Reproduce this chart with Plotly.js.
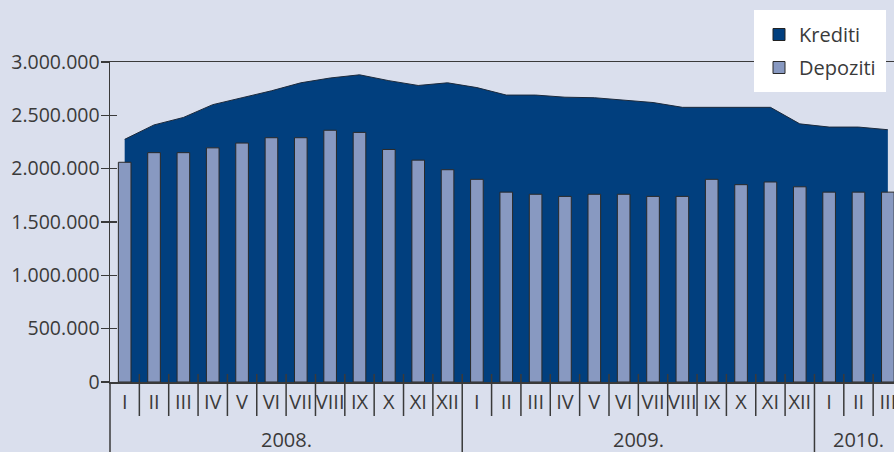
<!DOCTYPE html>
<html>
<head>
<meta charset="utf-8">
<script src="https://cdn.plot.ly/plotly-3.0.1.min.js"></script>
<style>
  html, body { margin: 0; padding: 0; background: #dadfed; }
  #chart { width: 894px; height: 452px; }
</style>
</head>
<body>
<div id="chart"></div>
<script>
// ---- Data ----
const months = ['I','II','III','IV','V','VI','VII','VIII','IX','X','XI','XII',
                'I','II','III','IV','V','VI','VII','VIII','IX','X','XI','XII',
                'I','II','III'];
const yearLabels = ['2008.', '2009.', '2010.'];
const yearCounts = [12, 12, 3];

const krediti = [2275000, 2410000, 2480000, 2600000, 2665000, 2730000, 2805000, 2850000, 2880000, 2825000, 2780000, 2805000,
                 2760000, 2690000, 2690000, 2670000, 2665000, 2640000, 2620000, 2575000, 2575000, 2575000, 2575000, 2420000,
                 2390000, 2390000, 2365000];
const depoziti = [2060000, 2150000, 2150000, 2195000, 2240000, 2290000, 2290000, 2360000, 2340000, 2180000, 2080000, 1990000,
                  1900000, 1780000, 1760000, 1740000, 1760000, 1760000, 1740000, 1740000, 1900000, 1850000, 1875000, 1830000,
                  1780000, 1780000, 1780000];
const yTicks = [0, 500000, 1000000, 1500000, 2000000, 2500000, 3000000];

// ---- Styles ----
const BG = '#dadfed';
const DARK = '#013f7e';
const LIGHT = '#8899c1';
const AXIS = '#3a3a3a';
const FONT = 'Open Sans, Lato, sans-serif';

const idx = months.map((_, i) => i);
const xRange = [-0.5, 26.21];
const plotH = 320;

const traces = [
  { // Krediti area (base subplot, drawn below bars)
    type: 'scatter', mode: 'lines', x: idx, y: krediti,
    fill: 'tozeroy', fillcolor: DARK,
    line: { color: '#1c2a3c', width: 1 },
    xaxis: 'x', yaxis: 'y', showlegend: false, hoverinfo: 'skip'
  },
  { // legend entry for Krediti
    type: 'bar', x: [null], y: [null], name: 'Krediti',
    marker: { color: DARK, line: { color: '#222', width: 1 } },
    xaxis: 'x2', yaxis: 'y2', legendgroup: 'k', showlegend: true
  },
  { // Depoziti bars (overlay subplot, drawn above the area)
    type: 'bar', x: idx, y: depoziti, name: 'Depoziti', width: 0.43,
    marker: { color: LIGHT, line: { color: '#2a2a2a', width: 1 } },
    xaxis: 'x2', yaxis: 'y2', legendgroup: 'd', showlegend: true
  }
];

// separators below x axis, built from the categories
const shapes = [];
const tickTop = 8 / plotH, tickBot = -34 / plotH, yearBot = -72 / plotH;
let cum = 0;
const yearEnds = yearCounts.map(c => (cum += c));
for (let i = 0; i < months.length - 1; i++) {
  const isYear = yearEnds.includes(i + 1);
  shapes.push({
    type: 'line', xref: 'x', yref: 'paper',
    x0: i + 0.5, x1: i + 0.5, y0: tickTop, y1: isYear ? yearBot : tickBot,
    line: { color: AXIS, width: 1.5 }, layer: 'above'
  });
}
// y axis line continues below the plot
shapes.push({
  type: 'line', xref: 'paper', yref: 'paper', x0: 0, x1: 0, y0: 0, y1: yearBot,
  line: { color: AXIS, width: 1.5 }, layer: 'above'
});

// year labels centred under their month groups
const annotations = [];
let start = 0;
yearLabels.forEach((lab, k) => {
  const center = start + (yearCounts[k] - 1) / 2;
  start += yearCounts[k];
  annotations.push({
    xref: 'x', yref: 'paper', x: center, y: -57 / plotH,
    text: lab, showarrow: false, xanchor: 'center', yanchor: 'middle',
    font: { family: FONT, size: 20, color: AXIS }
  });
});

const layout = {
  width: 894, height: 452,
  margin: { l: 110, r: 0, t: 62, b: 70, pad: 0 },
  paper_bgcolor: BG, plot_bgcolor: BG,
  separators: ',.',
  showlegend: true,
  barmode: 'overlay',
  font: { family: FONT, size: 20, color: AXIS },
  xaxis: {
    range: xRange, tickmode: 'array', tickvals: idx, ticktext: months,
    ticks: 'outside', ticklen: 1, tickcolor: 'rgba(0,0,0,0)',
    ticklabeloverflow: 'allow',
    showline: true, linecolor: AXIS, linewidth: 1.5, mirror: true,
    showgrid: false, zeroline: false,
    tickfont: { family: FONT, size: 20, color: AXIS }
  },
  yaxis: {
    range: [0, 3000000], tickmode: 'array', tickvals: yTicks, tickformat: ',d',
    ticks: 'outside', ticklen: 8, tickwidth: 1.5, tickcolor: AXIS,
    ticklabelstandoff: -3,
    showline: true, linecolor: AXIS, linewidth: 1.5,
    showgrid: false, zeroline: false,
    tickfont: { family: FONT, size: 19.5, color: AXIS }
  },
  xaxis2: {
    overlaying: 'x', range: xRange, visible: false
  },
  yaxis2: {
    overlaying: 'y', range: [0, 3000000], tickmode: 'array', tickvals: yTicks,
    ticks: 'inside', ticklen: 7, tickwidth: 1.5, tickcolor: AXIS,
    showticklabels: false, showline: false, showgrid: false, zeroline: false
  },
  legend: {
    x: (754 - 110) / 784, y: (382 - 10) / plotH, xanchor: 'left', yanchor: 'top',
    bgcolor: '#ffffff', bordercolor: '#ffffff', borderwidth: 5, tracegroupgap: 4,
    font: { family: FONT, size: 20, color: AXIS },
    itemclick: false, itemdoubleclick: false
  },
  shapes: shapes,
  annotations: annotations
};

Plotly.newPlot('chart', traces, layout, { displayModeBar: false, staticPlot: true });
</script>
</body>
</html>
